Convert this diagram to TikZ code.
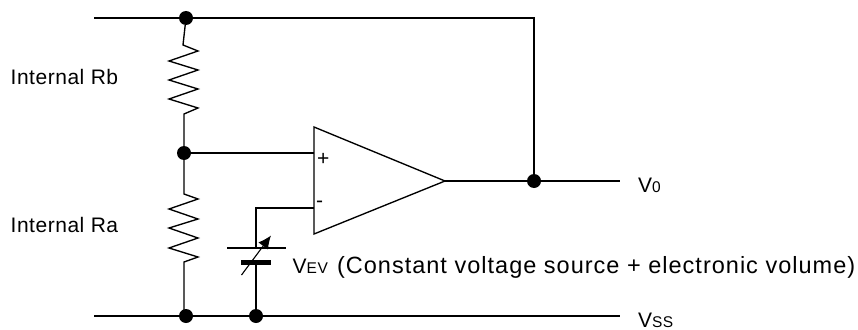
\documentclass[tikz,border=0pt]{standalone}
\usepackage{fontspec}
\setmainfont{Liberation Sans}
\usetikzlibrary{arrows.meta}
\tikzset{
  wire/.style={line width=1.35pt,line join=miter},
  junction/.style={circle,fill=black,inner sep=0pt,minimum size=14pt},
  lbl/.style={inner sep=0pt,anchor=base west,font=\fontsize{21}{24}\selectfont\addfontfeature{LetterSpace=2.5}},
  bigl/.style={inner sep=0pt,anchor=base west,font=\fontsize{23.5}{26}\selectfont\addfontfeature{LetterSpace=4.3}}
}
\newcommand{\subs}[1]{{\fontsize{15.5}{18}\selectfont #1}}
\begin{document}
\begin{tikzpicture}[x=1pt,y=-1pt]
\useasboundingbox (0,0) rectangle (858,329);
% junctions and free ends
\node[junction] (jt) at (186,18) {};
\node[junction] (jm) at (184,153) {};
\node[junction] (jo) at (534,181) {};
\node[junction] (jb) at (186,316) {};
\node[junction] (jv) at (256,316) {};
\coordinate (tl) at (94,18);
\coordinate (tc) at (534,18);
\coordinate (bl) at (94,316);
\coordinate (br) at (620,316);
\coordinate (or) at (620,181);
% op amp
\coordinate (ota) at (314,127);
\coordinate (otb) at (314,234);
\coordinate (otip) at (445,181);
\coordinate (ip) at (314,153);
\coordinate (im) at (314,208);
\draw[wire] (ota) -- (otip) -- (otb) -- cycle;
% rails
\draw[wire] (tl) -- (jt) -- (tc) -- (jo);
\draw[wire] (bl) -- (jb) -- (jv) -- (br);
\draw[wire] (otip) -- (jo) -- (or);
\draw[wire] (jm) -- (ip);
% resistors
\draw[wire] (jt) -- (183,45) -- (198,51) -- (169,61) -- (198,70) -- (169,80) -- (198,89) -- (169,99) -- (198,108) -- (184,114) -- (jm);
\draw[wire] (jm) -- (184,194) -- (198,199) -- (169,209) -- (198,219) -- (169,228) -- (198,238) -- (169,248) -- (198,257) -- (184,262) -- (184,316);
% source
\coordinate (bt) at (256,248);
\coordinate (bm) at (256,262);
\draw[wire] (im) -- (256,208) -- (bt);
\draw[wire] (227,248) -- (286,248);
\draw[line width=5pt] (241,262) -- (271,262);
\draw[wire] (bm) -- (jv);
\draw[line width=1.1pt,-{Latex[length=13pt,width=12pt]}] (241.5,275) -- (271,235.5);
% labels
\node[lbl] (t1) at (10.5,84) {Internal Rb};
\node[lbl] (t2) at (10.5,232) {Internal Ra};
\node[lbl] (t3) at (317,165.5) {+};
\node[lbl] (t4) at (316,207) {-};
\node[lbl] (t5) at (638,192) {V\subs{0}};
\node[lbl] (t6) at (638,327.5) {V\subs{SS}};
\node[bigl] (t7) at (292.5,273) {{\fontsize{21}{24}\selectfont V\subs{EV}}\hspace{1.5pt} (Constant voltage source + electronic volume)};
\end{tikzpicture}
\end{document}
